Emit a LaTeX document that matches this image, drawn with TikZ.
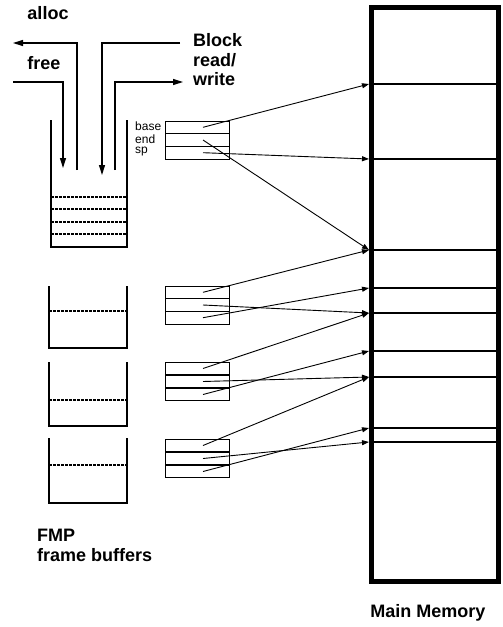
\documentclass[tikz,border=0pt]{standalone}
\usepackage{fontspec}
\setmainfont{Liberation Sans}
\usetikzlibrary{arrows.meta}

\begin{document}
\begin{tikzpicture}[x=1pt, y=-1pt, >={Triangle[length=10pt,width=6pt]},
    flow/.style={->, line width=1.4pt},
    ptr/.style={-{Triangle[length=7pt,width=5pt]}, line width=0.9pt},
    wall/.style={line width=2pt},
    level/.style={line width=1.3pt, dash pattern=on 2.5pt off 1.5pt},
    reg/.style={draw, line width=0.9pt, minimum width=64, minimum height=12.7, inner sep=0pt, outer sep=0pt},
    memline/.style={line width=1.5pt},
    big/.style={font=\fontsize{18}{19.5}\selectfont\bfseries, inner sep=0pt},
    small/.style={font=\fontsize{12}{12}\selectfont, inner sep=0pt, anchor=west}]
    \useasboundingbox (0,0) rectangle (503,627);

    % Main memory
    \draw[line width=5pt] (371,7) rectangle (498.5,581);
    \coordinate (M1) at (369,84);
    \coordinate (M2) at (369,159);
    \coordinate (M3) at (369,250);
    \coordinate (M4) at (369,288);
    \coordinate (M5) at (369,313);
    \coordinate (M6) at (369,351);
    \coordinate (M7) at (369,377);
    \coordinate (M8) at (369,428);
    \coordinate (M9) at (369,442);
    \foreach \m in {M1,M2,M3,M4,M5,M6,M7,M8,M9}
        \draw[memline] (\m) -- ++(129,0);
    \node[big] (mainmem) at (428,613) {Main Memory};

    % FMP frame buffers
    \draw[wall] (51,120) -- (51,247) -- (127,247) -- (127,120);
    \draw[level] (51,197) -- (127,197);
    \draw[level] (51,209) -- (127,209);
    \draw[level] (51,222) -- (127,222);
    \draw[level] (51,234) -- (127,234);
    \draw[wall] (49,286) -- (49,348) -- (127,348) -- (127,286);
    \draw[level] (49,311) -- (127,311);
    \draw[wall] (49,362) -- (49,426) -- (127,426) -- (127,362);
    \draw[level] (49,400) -- (127,400);
    \draw[wall] (49,438) -- (49,503) -- (127,503) -- (127,438);
    \draw[level] (49,465) -- (127,465);
    \node[big, anchor=west, align=left] (fmp) at (37,545.5) {FMP\\frame buffers};

    % Buffer pool in and out
    \coordinate (A0) at (77,170);
    \coordinate (A1) at (13,43);
    \coordinate (F0) at (13,82);
    \coordinate (F1) at (63,168);
    \coordinate (R0) at (180,43);
    \coordinate (R1) at (102,175);
    \coordinate (W0) at (115,170);
    \coordinate (W1) at (183,82);
    \draw[flow] (A0) |- (A1);
    \draw[flow] (F0) -| (F1);
    \draw[flow] (R0) -| (R1);
    \draw[flow] (W0) |- (W1);
    \node[big] (alloc) at (48,13) {alloc};
    \node[big] (free) at (44,63) {free};
    \node[big, anchor=west, align=left] (block) at (193,60) {Block\\read/\\write};

    % Frame registers
    \node[reg] (B1) at (197,127.3) {};
    \node[reg] (E1) at (197,140) {};
    \node[reg] (S1) at (197,152.7) {};
    \node[small] (tb) at (135,126) {base};
    \node[small] (te) at (135,139) {end};
    \node[small] (ts) at (135,152) {sp};
    \node[reg] (B2) at (197,292.3) {};
    \node[reg] (E2) at (197,305) {};
    \node[reg] (S2) at (197,317.7) {};
    \node[reg] (B3) at (197,368.5) {};
    \node[reg] (E3) at (197,381.5) {};
    \node[reg] (S3) at (197,394.5) {};
    \node[reg] (B4) at (197,445.5) {};
    \node[reg] (E4) at (197,458.5) {};
    \node[reg] (S4) at (197,471.5) {};

    % Pointers into memory
    \draw[ptr] ([xshift=6pt]B1.center) -- (M1);
    \draw[ptr] ([xshift=6pt]S1.center) -- (M2);
    \draw[ptr] ([xshift=6pt]E1.center) -- (M3);
    \draw[ptr] ([xshift=6pt]B2.center) -- (M3);
    \draw[ptr] ([xshift=6pt]S2.center) -- (M4);
    \draw[ptr] ([xshift=6pt]E2.center) -- (M5);
    \draw[ptr] ([xshift=6pt]B3.center) -- (M5);
    \draw[ptr] ([xshift=6pt]S3.center) -- (M6);
    \draw[ptr] ([xshift=6pt]E3.center) -- (M7);
    \draw[ptr] ([xshift=6pt]B4.center) -- (M7);
    \draw[ptr] ([xshift=6pt]S4.center) -- (M8);
    \draw[ptr] ([xshift=6pt]E4.center) -- (M9);
\end{tikzpicture}
\end{document}
